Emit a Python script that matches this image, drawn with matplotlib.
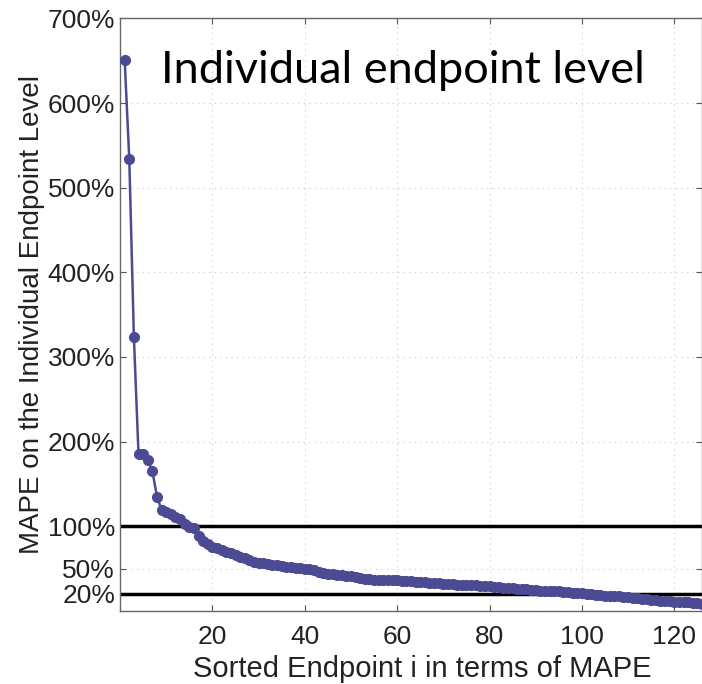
import numpy as np
import matplotlib
matplotlib.use("Agg")
import matplotlib.pyplot as plt

# sorted MAPE per endpoint, in percent
mape_pct = [651, 534, 323, 185, 185, 178, 165, 135, 119, 117,
            114, 111, 108, 103, 99, 98, 88, 82, 79, 76,
            74, 72, 70, 68, 66, 64, 62, 60, 58, 57,
            56, 55, 54, 54, 53, 52, 52, 51, 51, 50,
            50, 48, 46, 45, 44, 43, 42, 42, 41, 41,
            40, 39, 38, 38, 37, 37, 37, 36, 36, 36,
            35, 35, 35, 34, 34, 34, 33, 33, 33, 32,
            32, 32, 31, 31, 31, 30, 30, 29, 29, 29,
            28, 28, 27, 27, 27, 26, 26, 26, 25, 25,
            24, 24, 23, 23, 23, 22, 22, 21, 21, 21,
            20, 20, 19, 19, 18, 18, 17, 17, 16, 16,
            15, 15, 14, 14, 13, 13, 12, 12, 12, 11,
            11, 10, 10, 9, 9, 8]
ref_levels = [1.0, 0.2]
yticks = [0.2, 0.5, 1, 2, 3, 4, 5, 6, 7]
ytick_labels = ['20%', '50%', '100%', '200%', '300%', '400%', '500%', '600%', '700%']
xticks = [20, 40, 60, 80, 100, 120]

plt.rcParams['font.family'] = ['Liberation Sans', 'DejaVu Sans']

rank = np.arange(1, len(mape_pct) + 1)
mape = np.array(mape_pct) / 100.0

fig = plt.figure(figsize=(7.02, 6.84), dpi=100)
ax = fig.add_axes([0.171, 0.107, 0.829, 0.866])

for lvl in ref_levels:
    ax.axhline(lvl, color='black', lw=2.5, zorder=2)

ax.plot(rank, mape, '-o', color='#4B4A93', lw=1.8, ms=7, zorder=3)

ax.set_xlim(0, 126)
ax.set_ylim(0, 7)
ax.set_xticks(xticks)
ax.set_yticks(yticks)
ax.set_yticklabels(ytick_labels)
ax.grid(True, linestyle=(0, (1, 4)), color='#c8c8c8', lw=0.8)
ax.set_axisbelow(True)
ax.tick_params(direction='in', length=4, labelsize=19, top=True, right=True,
               color='#555555', labelcolor='#222222')
ax.tick_params(axis='x', pad=10)
for s in ax.spines.values():
    s.set_color('#666666')
    s.set_linewidth(1.0)

ax.set_xlabel('Sorted Endpoint i in terms of MAPE', fontsize=21, color='#222222')
ax.xaxis.set_label_coords(0.52, -0.075)
ax.set_ylabel('MAPE on the Individual Endpoint Level', fontsize=20, color='#222222', labelpad=2)

fig.text(0.574, 0.897, 'Individual endpoint level', fontsize=32.5, family='Lato',
         ha='center', va='center', color='black')

fig.savefig('out.png', dpi=100)
